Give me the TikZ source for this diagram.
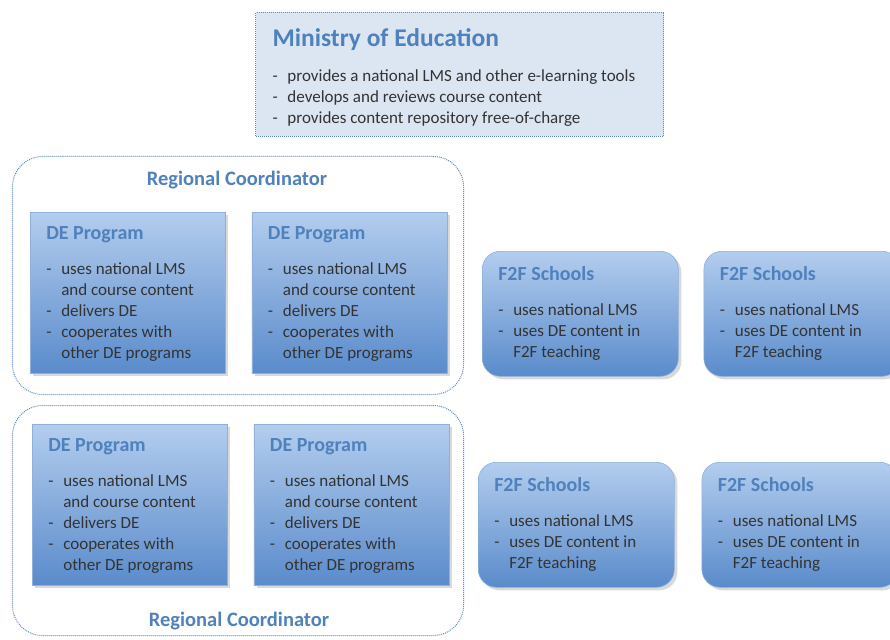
\documentclass[tikz,border=0pt]{standalone}
\usepackage{fontspec}
\setmainfont{Carlito}
\usetikzlibrary{positioning,shadows}
\definecolor{deTop}{HTML}{B3CDEE}
\definecolor{deBot}{HTML}{5A8BCB}
\definecolor{deLine}{HTML}{8EB0DB}
\definecolor{titleBlue}{HTML}{4F81BD}
\definecolor{ministryFill}{HTML}{DCE6F2}
\definecolor{dotBlue}{HTML}{5B8BC9}
\definecolor{bodyGray}{HTML}{333333}
% bullet line and continuation line
\newcommand{\itm}{\makebox[15pt][l]{-}}
\newcommand{\cnt}{\hspace*{15pt}}
\newcommand{\boxtitle}[1]{{\fontsize{20}{21}\selectfont\bfseries\color{titleBlue}#1}}
\newcommand{\deText}{\parbox[t][133pt][t]{163pt}{\boxtitle{DE Program}\\[14pt]
  \itm uses national LMS\\ \cnt and course content\\ \itm delivers DE\\
  \itm cooperates with\\ \cnt other DE programs}}
\newcommand{\schoolText}{\parbox[t][95pt][t]{164pt}{\boxtitle{F2F Schools}\\[14pt]
  \itm uses national LMS\\ \itm uses DE content in\\ \cnt F2F teaching}}
\tikzset{%
  >={latex},
  % Specifications for style of nodes:
      base/.style = {anchor=north west, inner xsep=16pt, inner ysep=14pt,
                     font=\fontsize{17}{21}\selectfont, text=bodyGray},
    deprog/.style = {base, top color=deTop, bottom color=deBot,
                     draw=deLine, line width=0.6pt,
                     drop shadow={opacity=0.3, shadow xshift=3pt,
                                  shadow yshift=-3pt}},
    school/.style = {deprog, rounded corners=18pt, inner ysep=15pt},
  ministry/.style = {base, inner xsep=17pt, inner ysep=16pt,
                     fill=ministryFill, draw=dotBlue,
                     densely dotted, line width=1pt},
    region/.style = {anchor=north west, draw=dotBlue, densely dotted,
                     line width=1pt, rounded corners=30pt,
                     minimum width=451pt},
  regtitle/.style = {font=\fontsize{20.5}{22}\selectfont\bfseries,
                     text=titleBlue},
}
\begin{document}
\begin{tikzpicture}[x=1pt, y=-1pt]
  \useasboundingbox (0,0) rectangle (890,639);
  % Ministry on top
  \node (ministry) [ministry] at (255,12)
    {\parbox[t][92pt][t]{374pt}{{\fontsize{25.5}{26}\selectfont\bfseries
      \color{titleBlue}Ministry of Education}\\[14pt]
      \itm provides a national LMS and other e-learning tools\\
      \itm develops and reviews course content\\
      \itm provides content repository free-of-charge}};
  % First region
  \node (regionTop)      [region, minimum height=238pt] at (12,156) {};
  \node (regionTopTitle) [regtitle] at (237,180) {Regional Coordinator};
  \node (deA)            [deprog] at (30,212) {\deText};
  \node (deB)            [deprog, right=26pt of deA] {\deText};
  \node (schoolA)        [school] at (482,251) {\schoolText};
  \node (schoolB)        [school, right=25pt of schoolA] {\schoolText};
  % Second region
  \node (regionBot)      [region, minimum height=230pt] at (12,405) {};
  \node (regionBotTitle) [regtitle] at (239,621) {Regional Coordinator};
  \node (deC)            [deprog] at (32,424) {\deText};
  \node (deD)            [deprog, right=26pt of deC] {\deText};
  \node (schoolC)        [school] at (478,462) {\schoolText};
  \node (schoolD)        [school, right=27pt of schoolC] {\schoolText};
\end{tikzpicture}
\end{document}
